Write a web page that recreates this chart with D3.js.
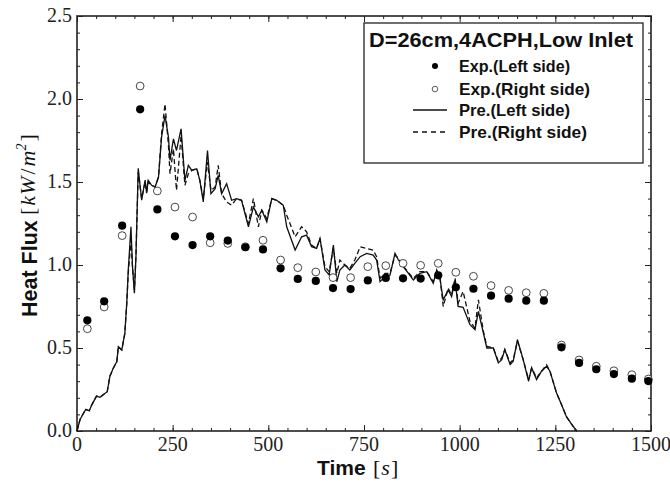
<!DOCTYPE html>
<html>
<head>
<meta charset="utf-8">
<script src="https://cdn.jsdelivr.net/npm/d3@7"></script>
<style>
  body { margin: 0; background: #fff; }
  svg { display: block; }
</style>
</head>
<body>
<div id="chart"></div>
<script>
// experimental points (time in s, heat flux in kW/m2)
const expTime = [27, 71, 118, 165, 210, 256, 302, 348, 394, 440, 486, 532, 577, 624, 669, 715, 760,
  807, 852, 898, 944, 990, 1036, 1082, 1128, 1174, 1220, 1266, 1312, 1357, 1403, 1450, 1493];
const expLeft = [0.667, 0.781, 1.237, 1.938, 1.335, 1.173, 1.120, 1.173, 1.147, 1.107, 1.094, 0.980, 0.916,
  0.904, 0.861, 0.855, 0.907, 0.922, 0.920, 0.918, 0.938, 0.866, 0.857, 0.815, 0.797, 0.785, 0.785,
  0.504, 0.410, 0.372, 0.343, 0.315, 0.301];
const expRight = [0.616, 0.747, 1.177, 2.078, 1.446, 1.349, 1.289, 1.134, 1.130, 1.110, 1.149, 1.030, 0.984,
  0.958, 0.924, 0.924, 0.990, 0.996, 1.010, 0.998, 1.010, 0.956, 0.932, 0.876, 0.847, 0.833, 0.829,
  0.518, 0.428, 0.390, 0.363, 0.339, 0.313];

// predictions
const preTime = [0, 8, 17, 23, 32, 39, 51, 60, 71, 79, 86, 95, 104, 108, 117, 125, 130, 134, 141, 145,
  150, 154, 160, 169, 178, 182, 186, 195, 204, 213, 221, 230, 239, 243, 252, 260, 272, 282, 291, 300,
  313, 321, 330, 341, 350, 361, 369, 378, 391, 404, 417, 430, 448, 461, 474, 483, 496, 509, 522, 539,
  548, 570, 587, 600, 613, 626, 635, 648, 659, 670, 679, 687, 700, 713, 726, 740, 757, 774, 783, 792,
  805, 818, 831, 840, 853, 879, 896, 914, 931, 940, 949, 957, 970, 979, 988, 996, 1009, 1027, 1040, 1049,
  1062, 1071, 1088, 1101, 1110, 1118, 1132, 1140, 1151, 1166, 1180, 1188, 1201, 1214, 1227, 1236, 1253,
  1266, 1279, 1297, 1306];
const preLeft = [0, 0.07, 0.107, 0.13, 0.122, 0.159, 0.21, 0.203, 0.223, 0.237, 0.33, 0.38, 0.417, 0.508,
  0.488, 0.588, 0.769, 0.97, 1.23, 0.99, 0.83, 1.05, 1.582, 1.39, 1.512, 1.432, 1.51, 1.48, 1.47, 1.53,
  1.77, 1.90, 1.77, 1.63, 1.76, 1.69, 1.82, 1.51, 1.60, 1.57, 1.58, 1.51, 1.38, 1.69, 1.43, 1.46, 1.54,
  1.43, 1.49, 1.39, 1.40, 1.39, 1.23, 1.35, 1.29, 1.33, 1.26, 1.40, 1.39, 1.36, 1.23, 1.09, 1.17, 1.18,
  1.11, 1.10, 1.16, 0.97, 0.94, 1.12, 0.90, 0.97, 1.00, 0.97, 1.01, 1.05, 1.07, 1.06, 1.03, 0.90, 0.93,
  0.94, 1.07, 1.03, 0.99, 0.91, 0.95, 0.96, 0.89, 0.97, 0.91, 0.79, 0.85, 0.81, 0.91, 0.75, 0.745, 0.64,
  0.61, 0.72, 0.59, 0.50, 0.50, 0.41, 0.43, 0.49, 0.40, 0.42, 0.55, 0.43, 0.30, 0.38, 0.31, 0.36, 0.39,
  0.36, 0.23, 0.16, 0.086, 0.026, 0.0];
const preRight = [0, 0.07, 0.107, 0.13, 0.122, 0.159, 0.21, 0.203, 0.223, 0.237, 0.33, 0.38, 0.417, 0.508,
  0.488, 0.588, 0.769, 0.95, 1.15, 0.99, 0.85, 1.05, 1.56, 1.40, 1.50, 1.44, 1.50, 1.48, 1.47, 1.53,
  1.79, 1.97, 1.72, 1.55, 1.70, 1.45, 1.78, 1.48, 1.55, 1.57, 1.58, 1.51, 1.40, 1.62, 1.45, 1.47, 1.60,
  1.43, 1.38, 1.36, 1.40, 1.39, 1.25, 1.40, 1.23, 1.33, 1.28, 1.40, 1.39, 1.36, 1.30, 1.17, 1.23, 1.20,
  1.12, 1.10, 1.16, 0.99, 0.96, 1.10, 0.95, 1.03, 1.00, 0.98, 1.03, 1.11, 1.10, 1.09, 1.05, 0.92, 0.95,
  0.95, 1.06, 1.04, 0.99, 0.92, 0.96, 0.96, 0.90, 0.97, 0.92, 0.75, 0.86, 0.82, 0.92, 0.77, 0.84, 0.66,
  0.62, 0.79, 0.60, 0.51, 0.50, 0.42, 0.44, 0.49, 0.41, 0.43, 0.54, 0.43, 0.31, 0.38, 0.32, 0.36, 0.40,
  0.36, 0.23, 0.16, 0.086, 0.026, 0.0];

const xTicks = [0, 250, 500, 750, 1000, 1250, 1500];
const yTicks = [0.0, 0.5, 1.0, 1.5, 2.0, 2.5];
const legendTitle = 'D=26cm,4ACPH,Low Inlet';
const legendLabels = ['Exp.(Left side)', 'Exp.(Right side)', 'Pre.(Left side)', 'Pre.(Right side)'];

const width = 670, height = 485;
const mLeft = 77, mRight = 651, mTop = 16, mBottom = 431;
const serif = '"Liberation Serif", "DejaVu Serif", serif';
const sans = '"Liberation Sans", Arial, sans-serif';

const svg = d3.select('#chart').append('svg')
  .attr('width', width)
  .attr('height', height);

const x = d3.scaleLinear().domain([0, 1500]).range([mLeft, mRight]);
const y = d3.scaleLinear().domain([0, 2.5]).range([mBottom, mTop]);

// axes, ticks pointing inward on all four sides
const minorX = d3.range(0, 1501, 50);
const minorY = d3.range(0, 26).map(d => d / 10);

function drawAxis(axis, tr, vals, size) {
  svg.append('g')
    .attr('transform', tr)
    .call(axis.tickValues(vals).tickSize(size).tickFormat('').tickSizeOuter(0))
    .call(g => g.select('.domain').remove())
    .call(g => g.selectAll('line').attr('stroke', '#222').attr('stroke-width', 1));
}
drawAxis(d3.axisTop(x), `translate(0,${mBottom})`, minorX, 3);
drawAxis(d3.axisTop(x), `translate(0,${mBottom})`, xTicks, 6);
drawAxis(d3.axisBottom(x), `translate(0,${mTop})`, minorX, 3);
drawAxis(d3.axisBottom(x), `translate(0,${mTop})`, xTicks, 6);
drawAxis(d3.axisRight(y), `translate(${mLeft},0)`, minorY, 3);
drawAxis(d3.axisRight(y), `translate(${mLeft},0)`, yTicks, 6);
drawAxis(d3.axisLeft(y), `translate(${mRight},0)`, minorY, 3);
drawAxis(d3.axisLeft(y), `translate(${mRight},0)`, yTicks, 6);

svg.append('rect')
  .attr('x', mLeft).attr('y', mTop)
  .attr('width', mRight - mLeft).attr('height', mBottom - mTop)
  .attr('fill', 'none').attr('stroke', '#222').attr('stroke-width', 1.6);

// tick labels
svg.append('g').selectAll('text')
  .data(xTicks).enter().append('text')
  .attr('x', d => x(d)).attr('y', mBottom + 20)
  .attr('text-anchor', 'middle')
  .style('font-family', serif).style('font-size', '20px').attr('fill', '#222')
  .text(d => d);

svg.append('g').selectAll('text')
  .data(yTicks).enter().append('text')
  .attr('x', mLeft - 5).attr('y', d => y(d) + 6)
  .attr('text-anchor', 'end')
  .style('font-family', serif).style('font-size', '20px').attr('fill', '#222')
  .text(d => d.toFixed(1));

// axis labels
svg.append('text')
  .attr('x', 317).attr('y', 475)
  .style('font-family', sans).style('font-weight', 'bold').style('font-size', '21px')
  .attr('fill', '#111')
  .text('Time');
const xu = svg.append('text')
  .attr('x', 373).attr('y', 475)
  .style('font-family', serif).style('font-size', '22px').attr('fill', '#111');
xu.append('tspan').text('[');
xu.append('tspan').style('font-style', 'italic').attr('dx', 1).text('s');
xu.append('tspan').attr('dx', 1).text(']');

svg.append('text')
  .attr('transform', 'translate(37,317) rotate(-90)')
  .style('font-family', sans).style('font-weight', 'bold').style('font-size', '21.5px')
  .attr('fill', '#111')
  .text('Heat Flux');
const yu = svg.append('text')
  .attr('transform', 'translate(35,215) rotate(-90)')
  .style('font-family', serif).style('font-size', '22px').attr('fill', '#111');
yu.append('tspan').text('[');
yu.append('tspan').style('font-style', 'italic').attr('dx', 2).text('k');
yu.append('tspan').style('font-style', 'italic').attr('dx', 1).text('W');
yu.append('tspan').attr('dx', 2).text('/');
yu.append('tspan').style('font-style', 'italic').attr('dx', 2).text('m');
yu.append('tspan').style('font-style', 'italic').style('font-size', '14px').attr('dy', -9).text('2');
yu.append('tspan').attr('dy', 9).attr('dx', 2).text(']');

// prediction lines
const line = d3.line().x(d => x(d[0])).y(d => y(d[1]));
const plot = svg.append('g');

plot.append('path')
  .datum(preTime.map((t, i) => [t, preRight[i]]))
  .attr('d', line)
  .attr('fill', 'none').attr('stroke', '#111').attr('stroke-width', 1.3)
  .attr('stroke-dasharray', '5,3');

plot.append('path')
  .datum(preTime.map((t, i) => [t, preLeft[i]]))
  .attr('d', line)
  .attr('fill', 'none').attr('stroke', '#111').attr('stroke-width', 1.3);

// experimental points
plot.selectAll('.open')
  .data(expTime.map((t, i) => [t, expRight[i]]))
  .enter().append('circle')
  .attr('class', 'open')
  .attr('cx', d => x(d[0])).attr('cy', d => y(d[1])).attr('r', 3.9)
  .attr('fill', '#fff').attr('stroke', '#333').attr('stroke-width', 0.9);

plot.selectAll('.filled')
  .data(expTime.map((t, i) => [t, expLeft[i]]))
  .enter().append('circle')
  .attr('class', 'filled')
  .attr('cx', d => x(d[0])).attr('cy', d => y(d[1])).attr('r', 4.1)
  .attr('fill', '#000');

// legend
const lg = svg.append('g');
lg.append('rect')
  .attr('x', 364).attr('y', 23).attr('width', 279).attr('height', 140)
  .attr('fill', '#fff').attr('stroke', '#222').attr('stroke-width', 1.3);
lg.append('text')
  .attr('x', 369).attr('y', 47)
  .attr('textLength', 264).attr('lengthAdjust', 'spacingAndGlyphs')
  .style('font-family', sans).style('font-weight', 'bold').style('font-size', '20px')
  .attr('fill', '#111')
  .text(legendTitle);

const rowY = [66, 89, 110, 132];
const rowW = [111, 131, 111, 128];
legendLabels.forEach((lab, i) => {
  lg.append('text')
    .attr('x', 459).attr('y', rowY[i] + 6)
    .attr('textLength', rowW[i]).attr('lengthAdjust', 'spacingAndGlyphs')
    .style('font-family', sans).style('font-weight', 'bold').style('font-size', '16.5px')
    .attr('fill', '#111')
    .text(lab);
});
lg.append('circle').attr('cx', 435).attr('cy', rowY[0]).attr('r', 3).attr('fill', '#000');
lg.append('circle').attr('cx', 435).attr('cy', rowY[1]).attr('r', 2.8)
  .attr('fill', '#fff').attr('stroke', '#333').attr('stroke-width', 0.8);
lg.append('line').attr('x1', 413).attr('x2', 447).attr('y1', rowY[2]).attr('y2', rowY[2])
  .attr('stroke', '#111').attr('stroke-width', 1.3);
lg.append('line').attr('x1', 413).attr('x2', 447).attr('y1', rowY[3]).attr('y2', rowY[3])
  .attr('stroke', '#111').attr('stroke-width', 1.3).attr('stroke-dasharray', '5,4');
</script>
</body>
</html>
